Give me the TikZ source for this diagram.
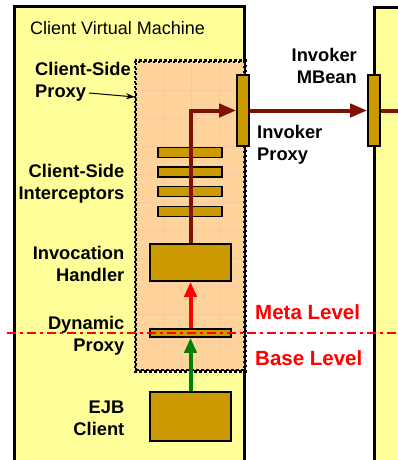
\documentclass[tikz,border=0pt]{standalone}
\usepackage{fontspec}
\setmainfont{Liberation Sans}
\usetikzlibrary{arrows.meta}
\definecolor{vmyellow}{HTML}{FFFF99}
\definecolor{proxyorange}{HTML}{FFD49C}
\definecolor{gridpink}{HTML}{FAC8A0}
\definecolor{gold}{HTML}{CC9900}
\definecolor{darkred}{HTML}{801000}
\definecolor{metared}{HTML}{FF0000}
\definecolor{basegreen}{HTML}{008000}
\tikzset{
  vmbox/.style={draw=black, line width=3pt, fill=vmyellow, rectangle, inner sep=0pt},
  proxybox/.style={draw=black, line width=2.5pt, dash pattern=on 2.5pt off 2.5pt, fill=proxyorange, rectangle, inner sep=0pt},
  part/.style={draw=black, line width=1.6pt, fill=gold, rectangle, inner sep=0pt},
  lbl/.style={font=\fontsize{18.3}{22}\selectfont\bfseries, inner sep=0pt},
  levellbl/.style={font=\fontsize{20.5}{24}\selectfont\bfseries, text=metared, inner sep=0pt},
  callflow/.style={draw=darkred, line width=4pt, -{Triangle[length=17pt,width=13pt]}},
  metaflow/.style={draw=metared, line width=4pt, -{Triangle[length=15pt,width=12pt]}},
  baseflow/.style={draw=basegreen, line width=4pt, -{Triangle[length=15pt,width=12pt]}},
  levelline/.style={draw=metared, line width=1.5pt, dash pattern=on 9pt off 4pt on 3pt off 4pt},
  gridline/.style={draw=gridpink, line width=0.6pt},
}
\begin{document}
\begin{tikzpicture}[x=1pt,y=-1pt]
\useasboundingbox (0,0) rectangle (398,460);
\clip (0,0) rectangle (398,460);
\fill[white] (0,0) rectangle (398,460);
% virtual machines
\node[vmbox, minimum width=230pt, minimum height=473pt] (vmL) at (129,243.5) {};
\node[vmbox, minimum width=86pt, minimum height=472pt] (vmR) at (417,244) {};
\node[font=\fontsize{18}{22}\selectfont, anchor=base west, inner sep=0pt] (vmtitle) at (30,35) {Client Virtual Machine};
% client-side proxy region
\node[proxybox, minimum width=108pt, minimum height=308pt] (proxy) at (190,216) {};
\foreach \gx in {163,191,219} {\draw[gridline] (\gx,64) -- (\gx,368);}
\foreach \gy in {90,118,146,174,202,230,258,286,314,342} {\draw[gridline] (138,\gy) -- (242,\gy);}
\draw[proxybox, fill=none] (proxy.north west) rectangle (proxy.south east);
% parts
\node[part, minimum width=12pt, minimum height=71pt] (ip) at (243,110.5) {};
\node[part, minimum width=12pt, minimum height=71pt] (mb) at (374,110.5) {};
\node[part, minimum width=64pt, minimum height=10pt] (ic1) at (190,152.5) {};
\node[part, minimum width=64pt, minimum height=10pt] (ic2) at (190,172) {};
\node[part, minimum width=64pt, minimum height=10pt] (ic3) at (190,191.5) {};
\node[part, minimum width=64pt, minimum height=10pt] (ic4) at (190,211.5) {};
\node[part, minimum width=81pt, minimum height=37pt] (ih) at (190.5,262.5) {};
\node[part, minimum width=81pt, minimum height=8pt] (dp) at (190.5,333) {};
\node[part, minimum width=81pt, minimum height=49pt] (ejb) at (190.5,416.5) {};
% flows
\draw[callflow] (ih.north) |- (ip.west);
\draw[callflow] (ip.east) -- (mb.west);
\coordinate (rend) at (400,110.5);
\draw[darkred, line width=4pt] (mb.east) -- (rend);
\draw[metaflow] (dp.north) -- (ih.south);
\draw[baseflow] (ejb.north) -- (dp.south);
% level line
\coordinate (lvA) at (7,333);
\coordinate (lvB) at (400,333);
\draw[levelline] (lvA) -- (lvB);
% labels (base anchor = baseline of the last line)
\node[lbl, align=left, anchor=base west] (lproxy) at (35,97) {Client-Side\\Proxy};
\coordinate (pa) at (89,93);
\coordinate (pb) at (135,97);
\draw[line width=1pt, -{Stealth[length=9pt,width=6pt]}] (pa) -- (pb);
\node[lbl, align=right, anchor=base east] (lic) at (124.5,199) {Client-Side\\Interceptors};
\node[lbl, align=right, anchor=base east] (lih) at (124.5,281) {Invocation\\Handler};
\node[lbl, align=right, anchor=base east] (ldp) at (124.5,351) {Dynamic\\Proxy};
\node[lbl, align=right, anchor=base east] (lejb) at (124.5,435) {EJB\\Client};
\node[lbl, align=right, anchor=base east] (lmb) at (357,83) {Invoker\\MBean};
\node[lbl, align=left, anchor=base west] (lip) at (257,160) {Invoker\\Proxy};
\node[levellbl, anchor=base west] (lmeta) at (255,319) {Meta Level};
\node[levellbl, anchor=base west] (lbase) at (255,365) {Base Level};
\end{tikzpicture}
\end{document}
